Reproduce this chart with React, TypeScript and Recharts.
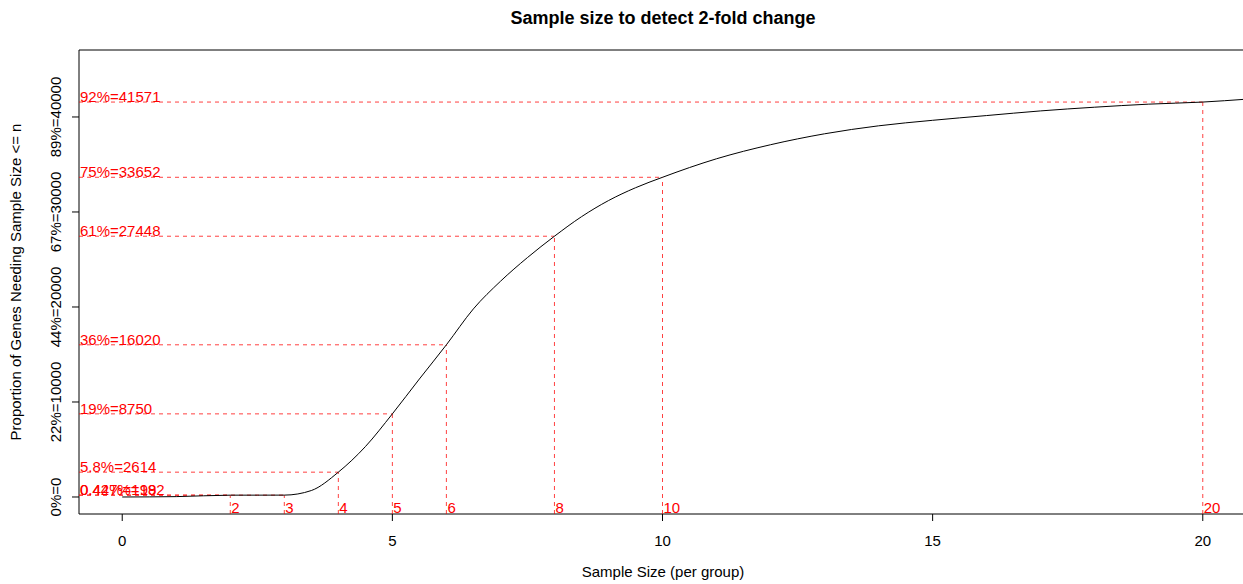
import React from 'react';
import { LineChart, Line, XAxis, YAxis, ReferenceLine, ReferenceArea } from 'recharts';

// curve: number of genes with required sample size <= n
const sampleSizes = [0, 1, 2, 2.5, 3, 3.5, 4, 4.5, 5, 5.5, 6, 6.5, 7, 7.5, 8, 8.5, 9, 9.5, 10, 11, 12, 13, 14, 15, 16, 17, 18, 19, 20, 20.8];
const geneCounts = [0, 40, 192, 194, 198, 680, 2614, 5300, 8750, 12420, 16020, 19800, 22700, 25200, 27448, 29500, 31200, 32550, 33652, 35600, 37080, 38230, 39070, 39650, 40150, 40640, 41030, 41350, 41571, 41870];

// red markers
const markN = [2, 3, 4, 5, 6, 8, 10, 20];
const markCount = [192, 198, 2614, 8750, 16020, 27448, 33652, 41571];
const markPct = ['0.427%', '0.44%', '5.8%', '19%', '36%', '61%', '75%', '92%'];

const xTicks = [0, 5, 10, 15, 20];
const yTicks = [0, 10000, 20000, 30000, 40000];
const yTickLabels = ['0%=0', '22%=10000', '44%=20000', '67%=30000', '89%=40000'];

const X_MIN = -0.8;
const X_MAX = 20.8;
const Y_MIN = -1790;
const Y_MAX = 47050;

const FONT = '"Liberation Sans", Arial, sans-serif';
const RED = '#ff0000';

const data = sampleSizes.map((n, i) => ({ n, genes: geneCounts[i] }));

const YTick = (props: any) => {
    const { y, index } = props;
    return (
        <text x={61} y={y} transform={`rotate(-90, 61, ${y})`} textAnchor="middle"
            fontSize={15} fontFamily={FONT} fill="#000">
            {yTickLabels[index]}
        </text>
    );
};

export default function App() {
    return (
        <div style={{ position: 'absolute', left: 0, top: 0, width: 1243, height: 584, overflow: 'hidden', background: '#fff' }}>
            <LineChart width={1250} height={584} data={data} margin={{ top: 50, right: 4, left: 0, bottom: 0 }}>
                <XAxis
                    dataKey="n"
                    type="number"
                    domain={[X_MIN, X_MAX]}
                    allowDataOverflow
                    ticks={xTicks}
                    height={70}
                    axisLine={false}
                    tickSize={7}
                    tickMargin={14}
                    tickLine={{ stroke: '#000' }}
                    tick={{ fill: '#000', fontSize: 15, fontFamily: FONT }}
                />
                <YAxis
                    type="number"
                    domain={[Y_MIN, Y_MAX]}
                    allowDataOverflow
                    ticks={yTicks}
                    width={79}
                    axisLine={false}
                    tickSize={7}
                    tickLine={{ stroke: '#000' }}
                    tick={<YTick />}
                />
                <ReferenceArea x1={X_MIN} x2={X_MAX} y1={Y_MIN} y2={Y_MAX} fill="none" stroke="#000" strokeWidth={1} ifOverflow="visible" />
                {markN.map((n, i) => (
                    <ReferenceLine
                        key={`h${n}`}
                        segment={[{ x: X_MIN, y: markCount[i] }, { x: n, y: markCount[i] }]}
                        stroke={RED}
                        strokeOpacity={0.75}
                        strokeDasharray="4 4"
                        ifOverflow="visible"
                        label={(p: any) => (
                            <text x={p.viewBox.x + 1} y={p.viewBox.y} fill={RED} fontSize={15} fontFamily={FONT}>
                                {`${markPct[i]}=${markCount[i]}`}
                            </text>
                        )}
                    />
                ))}
                {markN.map((n, i) => (
                    <ReferenceLine
                        key={`v${n}`}
                        segment={[{ x: n, y: Y_MIN }, { x: n, y: markCount[i] }]}
                        stroke={RED}
                        strokeOpacity={0.75}
                        strokeDasharray="4 4"
                        ifOverflow="visible"
                        label={(p: any) => (
                            <text x={p.viewBox.x + 1} y={p.viewBox.y + p.viewBox.height - 1} fill={RED} fontSize={15} fontFamily={FONT}>
                                {String(n)}
                            </text>
                        )}
                    />
                ))}
                <Line type="monotone" dataKey="genes" stroke="#000" strokeWidth={1} dot={false} isAnimationActive={false} />
            </LineChart>
            <svg width={1243} height={584} style={{ position: 'absolute', left: 0, top: 0, pointerEvents: 'none' }}>
                <text x={663} y={23.5} textAnchor="middle" fontSize={18} fontWeight="bold" fontFamily={FONT} fill="#000">
                    Sample size to detect 2-fold change
                </text>
                <text x={663} y={577} textAnchor="middle" fontSize={15} fontFamily={FONT} fill="#000">
                    Sample Size (per group)
                </text>
                <text x={21} y={282} transform="rotate(-90, 21, 282)" textAnchor="middle" fontSize={15} fontFamily={FONT} fill="#000">
                    {'Proportion of Genes Needing Sample Size <= n'}
                </text>
            </svg>
        </div>
    );
}
